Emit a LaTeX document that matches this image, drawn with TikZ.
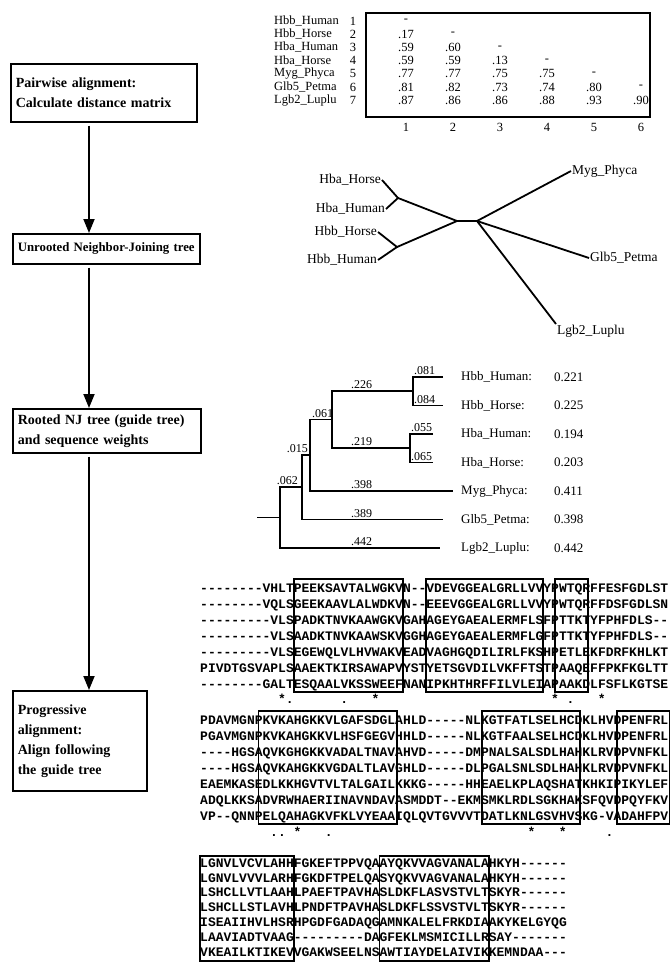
\documentclass[tikz,border=0pt]{standalone}
\usepackage{fontspec}
\setmainfont{Liberation Serif}
\newfontfamily\seqfont{Liberation Mono}[Ligatures=TeXOff]
\usetikzlibrary{arrows.meta}

\tikzset{
  stage/.style={draw, line width=1.6pt, anchor=north west, align=left, inner xsep=5pt, inner ysep=3pt, font=\fontsize{14}{20}\selectfont\bfseries},
  flow/.style={line width=1.8pt, -{Triangle[length=14pt,width=11pt]}, shorten <=3pt},
  branch/.style={line width=1.8pt},
  mname/.style={font=\fontsize{12.5}{13}\selectfont, inner sep=1pt},
  utaxon/.style={font=\fontsize{13.5}{15}\selectfont, inner sep=1pt},
  rtaxon/.style={font=\fontsize{13}{15}\selectfont, inner sep=1pt, anchor=west},
  blen/.style={font=\fontsize{12}{13}\selectfont, inner sep=1pt},
  seq/.style={font=\seqfont\bfseries\fontsize{13}{13}\selectfont, inner sep=0pt, anchor=base west},
  cons/.style={font=\seqfont\bfseries\fontsize{13}{13}\selectfont, inner sep=0pt, anchor=base},
  helix/.style={line width=1.8pt}
}

\begin{document}
\begin{tikzpicture}[x=1pt,y=-1pt]
\useasboundingbox (0,0) rectangle (669,963);

\node[stage, text width=176pt, minimum height=58pt] (pair) at (10,63) {Pairwise alignment:\\Calculate distance matrix};
\node[stage, text width=177pt, minimum height=30pt, font=\fontsize{12.8}{20}\selectfont\bfseries] (unroot) at (12,233) {Unrooted Neighbor-Joining tree};
\node[stage, text width=178pt, minimum height=44pt] (rooted) at (12,408) {Rooted NJ tree (guide tree)\\and sequence weights};
\node[stage, text width=124pt, minimum height=100pt] (prog) at (12,690) {Progressive\\alignment:\\Align following\\the guide tree};
\coordinate (ax) at (89,0);
\draw[flow] (pair.south -| ax) -- (unroot.north -| ax);
\draw[flow] (unroot.south -| ax) -- (rooted.north -| ax);
\draw[flow] (rooted.south -| ax) -- (prog.north -| ax);

\foreach \n [count=\i] in {Hbb\_Human,Hbb\_Horse,Hba\_Human,Hba\_Horse,Myg\_Phyca,Glb5\_Petma,Lgb2\_Luplu}{
  \node[mname, anchor=west] (name\i) at (273,{7.8+13.2*\i}) {\n};
  \node[mname] (num\i) at (353,{7.8+13.2*\i}) {\i};
}
\foreach \r [count=\i] in {{-},{.17,-},{.59,.60,-},{.59,.59,.13,-},{.77,.77,.75,.75,-},{.81,.82,.73,.74,.80,-},{.87,.86,.86,.88,.93,.90}}
  \foreach \v [count=\j] in \r
    \node[mname] (d\i\j) at ({359+47*\j},{7.8+13.2*\i}) {\v};
\foreach \j in {1,...,6}
  \node[mname] (col\j) at ({359+47*\j},127) {\j};
\draw[line width=1.5pt] (366,13) rectangle (650,117);

\node[utaxon, anchor=east] (uhbaho) at (382,180) {Hba\_Horse};
\node[utaxon, anchor=east] (uhbahu) at (386,209) {Hba\_Human};
\node[utaxon, anchor=east] (uhbbho) at (378,232) {Hbb\_Horse};
\node[utaxon, anchor=east] (uhbbhu) at (378,260) {Hbb\_Human};
\node[utaxon, anchor=west] (umyg) at (571,171) {Myg\_Phyca};
\node[utaxon, anchor=west] (uglb) at (589,258) {Glb5\_Petma};
\node[utaxon, anchor=north west] (ulgb) at (556,324) {Lgb2\_Luplu};
\coordinate (ja) at (398,198);
\coordinate (jb) at (397,247);
\coordinate (cl) at (457,221);
\coordinate (cr) at (477,221);
\draw[branch] (uhbaho.east) -- (ja) -- (uhbahu.east);
\draw[branch] (uhbbho.east) -- (jb) -- (uhbbhu.east);
\draw[branch] (ja) -- (cl) -- (jb);
\draw[branch] (cl) -- (cr);
\draw[branch] (cr) -- (umyg.west);
\draw[branch] (cr) -- (uglb.west);
\draw[branch] (cr) -- (ulgb.north west);

\coordinate (r0) at (257,517.5);
\coordinate (n1) at (280,517.5);
\coordinate (n2) at (302,487);
\coordinate (n3) at (310,455);
\coordinate (n4) at (332,419.5);
\coordinate (n5) at (413,391);
\coordinate (n6) at (410,448);
\coordinate (thbbhu) at (443,377);
\coordinate (thbbho) at (443,405.5);
\coordinate (thbahu) at (433,434);
\coordinate (thbaho) at (433,462.5);
\coordinate (tmyg) at (453,491);
\coordinate (tglb) at (443,519.5);
\coordinate (tlgb) at (440,548);
\draw[branch] (r0) -- (n1);
\draw[branch] (n2) -| (n1) |- (tlgb);
\draw[branch] (n3) -| (n2) |- (tglb);
\draw[branch] (n4) -| (n3) |- (tmyg);
\draw[branch] (n5) -| (n4) |- (n6);
\draw[branch] (thbbhu) -| (n5) |- (thbbho);
\draw[branch] (thbahu) -| (n6) |- (thbaho);
\node[blen, anchor=south east] (b062) at (299,486) {.062};
\node[blen, anchor=south east] (b015) at (309,454) {.015};
\node[blen, anchor=south west] (b061) at (311,418.5) {.061};
\node[blen, anchor=south west] (b226) at (350,390) {.226};
\node[blen, anchor=south west] (b219) at (350,447) {.219};
\node[blen, anchor=south west] (b398) at (350,490) {.398};
\node[blen, anchor=south west] (b389) at (350,518.5) {.389};
\node[blen, anchor=south west] (b442) at (350,547) {.442};
\node[blen, anchor=south west] (b081) at (413,376) {.081};
\node[blen, anchor=south west] (b084) at (413,404.5) {.084};
\node[blen, anchor=south west] (b055) at (410,433) {.055};
\node[blen, anchor=south west] (b065) at (410,461.5) {.065};
\node[rtaxon] (hbbhu) at (460,377) {Hbb\_Human:};
\node[rtaxon] (hbbho) at (460,405.5) {Hbb\_Horse:};
\node[rtaxon] (hbahu) at (460,434) {Hba\_Human:};
\node[rtaxon] (hbaho) at (460,462.5) {Hba\_Horse:};
\node[rtaxon] (myg) at (460,491) {Myg\_Phyca:};
\node[rtaxon] (glb) at (460,519.5) {Glb5\_Petma:};
\node[rtaxon] (lgb) at (460,548) {Lgb2\_Luplu:};
\node[rtaxon] (whbbhu) at (553,377) {0.221};
\node[rtaxon] (whbbho) at (553,405.5) {0.225};
\node[rtaxon] (whbahu) at (553,434) {0.194};
\node[rtaxon] (whbaho) at (553,462.5) {0.203};
\node[rtaxon] (wmyg) at (553,491) {0.411};
\node[rtaxon] (wglb) at (553,519.5) {0.398};
\node[rtaxon] (wlgb) at (553,548) {0.442};

\foreach \s [count=\i] in {--------VHLTPEEKSAVTALWGKVN--VDEVGGEALGRLLVVYPWTQRFFESFGDLST,
  --------VQLSGEEKAAVLALWDKVN--EEEVGGEALGRLLVVYPWTQRFFDSFGDLSN,
  ---------VLSPADKTNVKAAWGKVGAHAGEYGAEALERMFLSFPTTKTYFPHFDLS--,
  ---------VLSAADKTNVKAAWSKVGGHAGEYGAEALERMFLGFPTTKTYFPHFDLS--,
  ---------VLSEGEWQLVLHVWAKVEADVAGHGQDILIRLFKSHPETLEKFDRFKHLKT,
  PIVDTGSVAPLSAAEKTKIRSAWAPVYSTYETSGVDILVKFFTSTPAAQEFFPKFKGLTT,
  --------GALTESQAALVKSSWEEFNANIPKHTHRFFILVLEIAPAAKDLFSFLKGTSE}
  \node[seq] (sa\i) at (200,{576.3+16*\i}) {\s};
\foreach \a/\b in {12/26,29/44,45.5/49.7}
  \draw[helix] ({200+7.8*\a},579) rectangle ({200+7.8*\b},692);
\foreach \c/\m in {11/*,12/.,19/.,23/*,46/*,48/.,52/*}
  \node[cons] (ka\c) at ({200+7.8*(\c-0.5)},703) {\m};

\foreach \s [count=\i] in {PDAVMGNPKVKAHGKKVLGAFSDGLAHLD-----NLKGTFATLSELHCDKLHVDPENFRL,
  PGAVMGNPKVKAHGKKVLHSFGEGVHHLD-----NLKGTFAALSELHCDKLHVDPENFRL,
  ----HGSAQVKGHGKKVADALTNAVAHVD-----DMPNALSALSDLHAHKLRVDPVNFKL,
  ----HGSAQVKAHGKKVGDALTLAVGHLD-----DLPGALSNLSDLHAHKLRVDPVNFKL,
  EAEMKASEDLKKHGVTVLTALGAILKKKG-----HHEAELKPLAQSHATKHKIPIKYLEF,
  ADQLKKSADVRWHAERIINAVNDAVASMDDT--EKMSMKLRDLSGKHAKSFQVDPQYFKV,
  VP--QNNPELQAHAGKVFKLVYEAAIQLQVTGVVVTDATLKNLGSVHVSKG-VADAHFPV}
  \node[seq] (sb\i) at (200,{708.3+16*\i}) {\s};
\foreach \a/\b in {7.5/25.3,36.2/48.7,53.5/60.2}
  \draw[helix] ({200+7.8*\a},711) rectangle ({200+7.8*\b},824);
\foreach \c/\m in {10/.,11/.,13/*,17/.,43/*,47/*,53/.}
  \node[cons] (kb\c) at ({200+7.8*(\c-0.5)},836) {\m};

\foreach \s [count=\i] in {LGNVLVCVLAHHFGKEFTPPVQAAYQKVVAGVANALAHKYH------,
  LGNVLVVVLARHFGKDFTPELQASYQKVVAGVANALAHKYH------,
  LSHCLLVTLAAHLPAEFTPAVHASLDKFLASVSTVLTSKYR------,
  LSHCLLSTLAVHLPNDFTPAVHASLDKFLSSVSTVLTSKYR------,
  ISEAIIHVLHSRHPGDFGADAQGAMNKALELFRKDIAAKYKELGYQG,
  LAAVIADTVAAG---------DAGFEKLMSMICILLRSAY-------,
  VKEAILKTIKEVVGAKWSEELNSAWTIAYDELAIVIKKEMNDAA---}
  \node[seq] (sc\i) at (200,{852.5+14.8*\i}) {\s};
\foreach \a/\b in {0/12,23/37}
  \draw[helix] ({200+7.8*\a},856) rectangle ({200+7.8*\b},961);
\end{tikzpicture}
\end{document}
